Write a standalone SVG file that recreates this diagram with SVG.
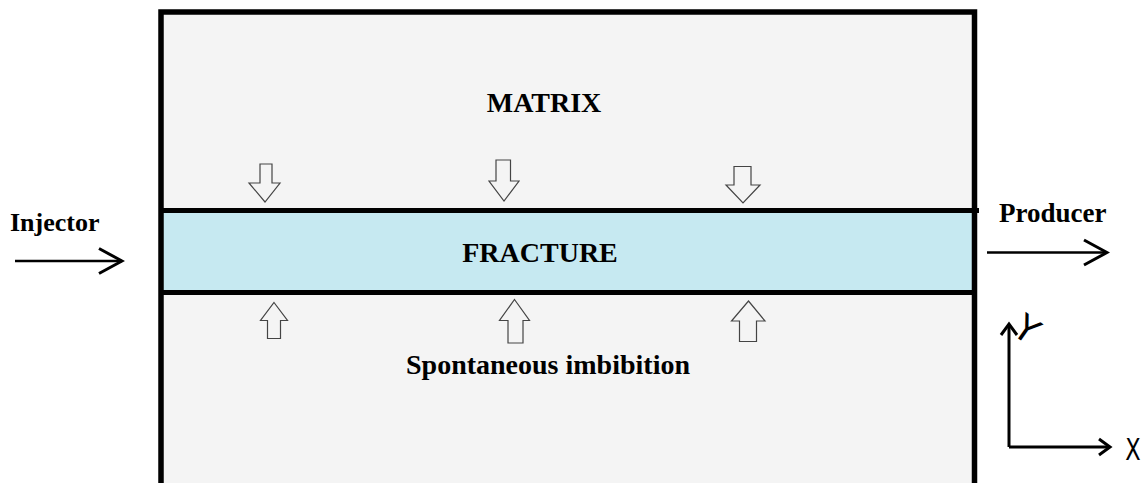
<svg xmlns="http://www.w3.org/2000/svg" width="1145" height="483" viewBox="0 0 1145 483">
<style>
.lbl{font-family:"Liberation Serif","Times New Roman",serif;font-weight:bold;fill:#000}
.blk{fill:#f4f4f4;stroke:#444;stroke-width:1.2;stroke-linejoin:miter}
.conn{stroke:#000;fill:none;stroke-width:2.5}
.ax{stroke:#000;fill:none;stroke-width:3}
.axl{font-family:"DejaVu Sans","Liberation Sans",sans-serif;font-weight:normal;fill:#000}
</style>
<defs>
<marker id="bigHead" markerUnits="userSpaceOnUse" markerWidth="28" markerHeight="30" viewBox="0 0 28 30" refX="25" refY="15" orient="auto">
<path d="M2,2.5 L25,15 L2,27.5" fill="none" stroke="#000" stroke-width="3"/>
</marker>
<marker id="smallHead" markerUnits="userSpaceOnUse" markerWidth="16" markerHeight="20" viewBox="0 0 16 20" refX="13" refY="10" orient="auto">
<path d="M2,2 L13,10 L2,18" fill="none" stroke="#000" stroke-width="3"/>
</marker>
</defs>
<rect x="0" y="0" width="1145" height="483" fill="#fff"/>
<g id="matrix">
<rect x="161" y="12" width="813.5" height="480" fill="#f4f4f4"/>
<text class="lbl" x="544" y="112" font-size="28" text-anchor="middle">MATRIX</text>
</g>
<g id="fracture">
<rect x="161" y="210.5" width="813.5" height="82" fill="#c6e9f1"/>
<line x1="161" y1="210.5" x2="979" y2="210.5" stroke="#000" stroke-width="5"/>
<line x1="161" y1="292.5" x2="974.5" y2="292.5" stroke="#000" stroke-width="5"/>
<text class="lbl" x="540" y="262" font-size="28" text-anchor="middle">FRACTURE</text>
</g>
<g id="matrix-border">
<path d="M161,483 L161,12 L974.5,12 L974.5,483" fill="none" stroke="#000" stroke-width="5.5"/>
</g>
<g id="imbibition-arrows">
<polygon class="blk" points="260,164 272,164 272,183 280,183 265,202 249,183 260,183"/>
<polygon class="blk" points="496,160 510.5,160 510.5,181 519,181 504,201 489,181 496,181"/>
<polygon class="blk" points="734,166.5 751,166.5 751,185 760,185 743,203 726,185 734,185"/>
<polygon class="blk" points="274,302.5 287.5,320.5 280.5,320.5 280.5,338.5 267.5,338.5 267.5,320.5 260.5,320.5"/>
<polygon class="blk" points="514.5,299.5 529.5,320.5 523,320.5 523,343 508,343 508,320.5 499.5,320.5"/>
<polygon class="blk" points="748.5,301 765,321 756.5,321 756.5,341.5 739.5,341.5 739.5,321 731.5,321"/>
</g>
<g id="imbibition-label">
<text class="lbl" x="548" y="374" font-size="28" text-anchor="middle">Spontaneous imbibition</text>
</g>
<g id="injector">
<text class="lbl" x="10" y="231" font-size="26">Injector</text>
</g>
<g id="producer">
<text class="lbl" x="999" y="222" font-size="27">Producer</text>
</g>
<g id="axes-labels">
<text class="axl" font-size="36" text-anchor="middle" transform="translate(1027,329) rotate(35)" y="13">Y</text>
<text class="axl" font-size="30" text-anchor="middle" transform="translate(1133,449) scale(0.75,1)" y="11">X</text>
</g>
<g id="connectors">
<line class="conn" x1="15" y1="261" x2="122" y2="261" marker-end="url(#bigHead)"/>
<line class="conn" x1="987" y1="252.5" x2="1107" y2="252.5" marker-end="url(#bigHead)"/>
<line class="ax" x1="1009" y1="447" x2="1009" y2="324" marker-end="url(#smallHead)"/>
<line class="ax" x1="1009" y1="447" x2="1110" y2="447" marker-end="url(#smallHead)"/>
</g>
</svg>
